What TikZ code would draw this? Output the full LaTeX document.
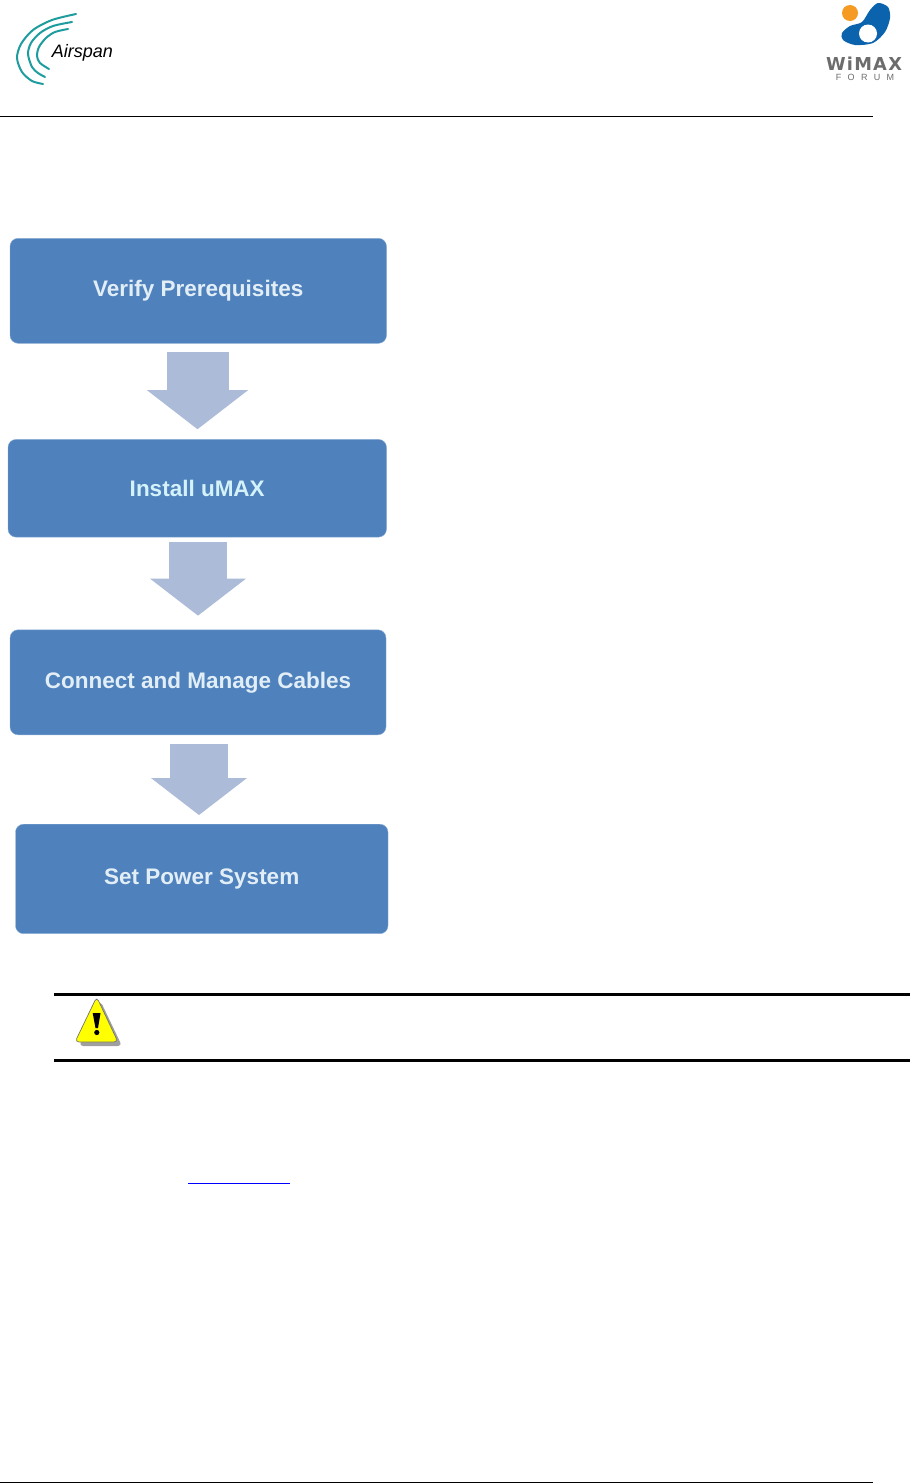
\documentclass[tikz,border=0pt]{standalone}
\usepackage{fontspec}
\setmainfont{Liberation Sans}
\newfontfamily\logofont{DejaVu Sans}
\usepackage{xcolor}
\usetikzlibrary{arrows.meta,positioning}
\definecolor{boxblue}{HTML}{4F81BD}
\definecolor{boxedge}{HTML}{8DAFD6}
\definecolor{flowblue}{HTML}{ABBBD8}
\definecolor{boxtext}{HTML}{E2EEF6}
\definecolor{boxcyan}{HTML}{D4F2FA}
\definecolor{arcteal}{HTML}{1F9C9E}
\definecolor{logoblue}{HTML}{0B63AE}
\definecolor{logoorange}{HTML}{F59A23}
\definecolor{logogrey}{HTML}{6C6C6C}
\definecolor{signyellow}{HTML}{FFFF00}
\definecolor{linkblue}{HTML}{0000FF}
\tikzset{
  stepbox/.style={fill=boxblue,draw=boxedge,rounded corners=8pt,text=boxtext,font=\fontsize{22.5}{26}\selectfont\bfseries},
  flow/.style={-{Triangle[length=37pt,width=96pt,line width=0pt]},line width=58pt,color=flowblue},
  arcline/.style={arcteal,line width=2pt,line cap=round},
  rulebar/.style={line width=3pt,color=black}
}

\begin{document}
\begin{tikzpicture}[x=1pt,y=-1pt]
  \useasboundingbox (0,0) rectangle (910,1483);
  % page header and footer
  \draw[black,line width=1pt] (0,116.5) -- (873,116.5);
  \draw[black,line width=1pt] (0,1482.5) -- (873,1482.5);
  % Airspan logo
  \draw[arcline] plot[smooth] coordinates {(76,14) (52,20) (33,30) (21,44) (17,58) (22,72) (32,81) (43,84)};
  \draw[arcline] plot[smooth] coordinates {(72,22) (53,26) (40,33) (31,43) (28,54) (32,67) (38,73) (45,77)};
  \draw[arcline] plot[smooth] coordinates {(68,29) (55,32) (46,38) (39,47) (37,56) (40,63) (49,69)};
  \node[font=\fontsize{18}{20}\selectfont\itshape,inner sep=0pt] (airspan) at (82.5,53) {Airspan};
  % WiMAX logo
  \fill[logoorange] (850,13) circle (8);
  \fill[logoblue] plot[smooth cycle] coordinates {(878,3) (888,7) (890,18) (885,32) (873,43) (855,45) (843,40) (842,33) (850,26) (862,22) (870,10)};
  \fill[white] (868,33.5) circle (9);
  \node[font=\logofont\fontsize{17.8}{20}\selectfont\bfseries\addfontfeature{LetterSpace=7},text=logogrey,inner sep=0pt] (wimax) at (864,63.5) {WiMAX};
  \node[font=\fontsize{9}{10}\selectfont\addfontfeature{LetterSpace=70},text=logogrey,inner sep=0pt] (forum) at (865,77.5) {FORUM};
  % flow chart
  \node[stepbox,minimum width=376.5pt,minimum height=105pt] (verify) at (198.25,290.8) {Verify Prerequisites};
  \node[stepbox,minimum width=378.5pt,minimum height=97.7pt,below=95.7pt of verify,xshift=-1pt,text=boxcyan] (install) {Install uMAX};
  \node[stepbox,minimum width=376pt,minimum height=105pt,below=92.3pt of install,xshift=.75pt] (connect) {Connect and Manage Cables};
  \node[stepbox,minimum width=372.5pt,minimum height=109.5pt,below=89pt of connect,xshift=3.75pt] (power) {Set Power System};
  \draw[flow,line width=62pt,-{Triangle[length=39pt,width=101pt,line width=0pt]}] ([xshift=-.75pt,yshift=-8.4pt]verify.south) -- ([xshift=.25pt,yshift=10pt]install.north);
  \draw[flow] ([xshift=.75pt,yshift=-5pt]install.south) -- ([yshift=14pt]connect.north);
  \draw[flow] ([xshift=1pt,yshift=-8.7pt]connect.south) -- ([xshift=-2.75pt,yshift=9pt]power.north);
  % warning strip
  \draw[rulebar] (54,994.5) -- (910,994.5);
  \draw[rulebar] (54,1060.5) -- (910,1060.5);
  \fill[gray!75,rounded corners=4pt] (100.5,1001) -- (122,1046) -- (79,1046) -- cycle;
  \draw[fill=signyellow,draw=black!55,line width=.7pt,rounded corners=4pt] (96.7,997) -- (118,1042) -- (75,1042) -- cycle;
  \fill[black] (92.7,1013) -- (100.5,1013) -- (98,1028) -- (95.5,1028) -- cycle;
  \fill[black] (96.8,1032.5) circle (2.6);
  % link underline
  \draw[linkblue,line width=1pt] (188,1183) -- (290,1183);
\end{tikzpicture}
\end{document}
